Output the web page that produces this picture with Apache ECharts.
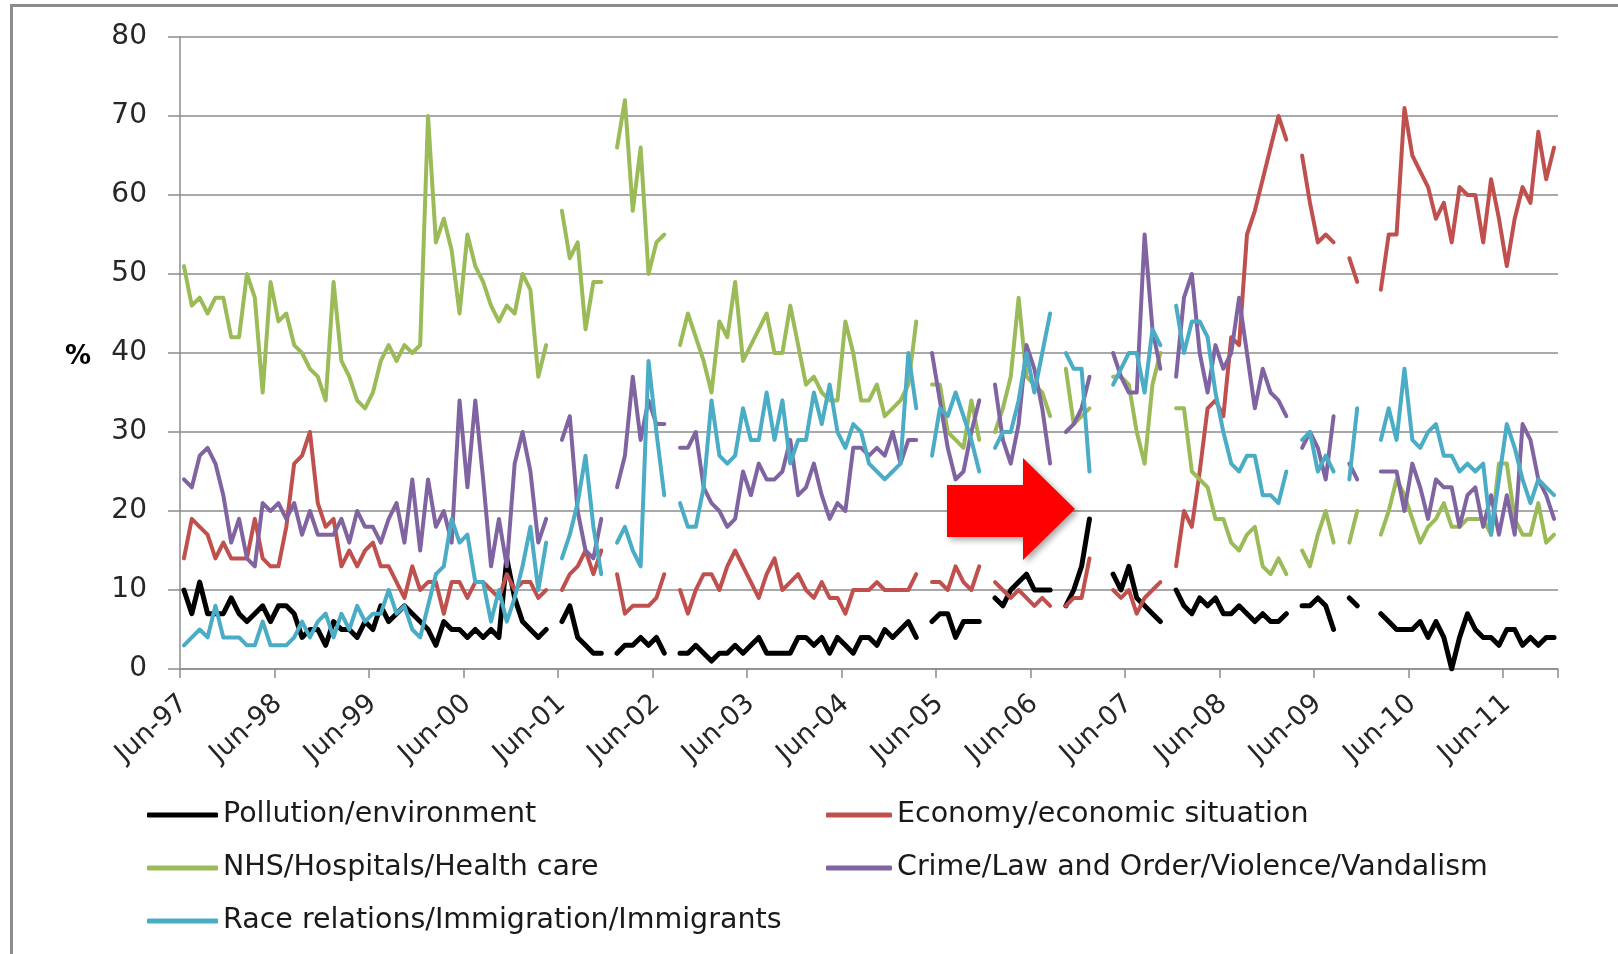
<!DOCTYPE html>
<html>
<head>
<meta charset="utf-8">
<script src="https://cdn.jsdelivr.net/npm/echarts@6/dist/echarts.min.js"></script>
<style>
html,body{margin:0;padding:0;background:#fff;}
#chart{width:1618px;height:954px;}
</style>
</head>
<body>
<div id="chart"></div>
<script>
// Monthly survey, Jun-97 .. Dec-11 (175 months); null = no survey that month
const monthNames = ['Jan','Feb','Mar','Apr','May','Jun','Jul','Aug','Sep','Oct','Nov','Dec'];
const startYear = 1997, startMonth = 5, monthCount = 175;
const categories = [];
for (let i = 0; i < monthCount; i++) {
  const mi = (startMonth + i) % 12;
  const yy = (startYear + Math.floor((startMonth + i) / 12)) % 100;
  categories.push(monthNames[mi] + '-' + String(yy).padStart(2, '0'));
}
const yTicks = [0, 10, 20, 30, 40, 50, 60, 70, 80];
const yAxisTitle = '%';

const seriesNames = [
  'Pollution/environment',
  'Economy/economic situation',
  'NHS/Hospitals/Health care',
  'Crime/Law and Order/Violence/Vandalism',
  'Race relations/Immigration/Immigrants'
];

const pollution = [
10,7,11,7,7,7,9,7,6,7,8,6,8,8,7,4,5,5,3,6,5,5,4,6,5,8,6,7,8,7,6,
5,3,6,5,5,4,5,4,5,4,14,9,6,5,4,5,
null,
6,8,4,3,2,2,
null,
2,3,3,4,3,4,2,
null,
2,2,3,2,1,2,2,3,2,3,4,2,2,2,2,4,4,3,4,2,4,3,2,4,4,3,5,4,5,6,4,
null,
6,7,7,4,6,6,6,
null,
9,8,10,11,12,10,10,10,
null,
8,10,13,19,
null,null,
12,10,13,9,8,7,6,
null,
10,8,7,9,8,9,7,7,8,7,6,7,6,6,7,
null,
8,8,9,8,5,
null,
9,8,
null,null,
7,6,5,5,5,6,4,6,4,0,4,7,5,4,4,3,5,5,3,4,3,4,4];

const economy = [
14,19,18,17,14,16,14,14,14,19,14,13,13,18,26,27,30,21,18,19,13,15,13,15,16,13,13,11,9,13,10,
11,11,7,11,11,9,11,11,10,9,12,10,11,11,9,10,
null,
10,12,13,15,12,15,
null,
12,7,8,8,8,9,12,
null,
10,7,10,12,12,10,13,15,13,11,9,12,14,10,11,12,10,9,11,9,9,7,10,10,10,11,10,10,10,10,12,
null,
11,11,10,13,11,10,13,
null,
11,10,9,10,9,8,9,8,
null,
8,9,9,14,
null,null,
10,9,10,7,9,10,11,
null,
13,20,18,25,33,34,32,42,41,55,58,62,66,70,67,
null,
65,59,54,55,54,
null,
52,49,
null,null,
48,55,55,71,65,63,61,57,59,54,61,60,60,54,62,57,51,57,61,59,68,62,66];

const nhs = [
51,46,47,45,47,47,42,42,50,47,35,49,44,45,41,40,38,37,34,49,39,37,34,33,35,39,41,39,41,40,41,
70,54,57,53,45,55,51,49,46,44,46,45,50,48,37,41,
null,
58,52,54,43,49,49,
null,
66,72,58,66,50,54,55,
null,
41,45,42,39,35,44,42,49,39,41,43,45,40,40,46,41,36,37,35,34,34,44,40,34,34,36,32,33,34,36,44,
null,
36,36,30,29,28,34,29,
null,
30,33,37,47,37,36,35,32,
null,
38,31,32,33,
null,null,
37,37,36,30,26,36,40,
null,
33,33,25,24,23,19,19,16,15,17,18,13,12,14,12,
null,
15,13,17,20,16,
null,
16,20,
null,null,
17,20,24,22,19,16,18,19,21,18,18,19,19,19,17,26,26,19,17,17,21,16,17];

const crime = [
24,23,27,28,26,22,16,19,14,13,21,20,21,19,21,17,20,17,17,17,19,16,20,18,18,16,19,21,16,24,15,
24,18,20,16,34,23,34,24,13,19,13,26,30,25,16,19,
null,
29,32,20,15,14,19,
null,
23,27,37,29,34,31,31,
null,
28,28,30,23,21,20,18,19,25,22,26,24,24,25,29,22,23,26,22,19,21,20,28,28,27,28,27,30,26,29,29,
null,
40,34,28,24,25,30,34,
null,
36,29,26,31,41,38,33,26,
null,
30,31,33,37,
null,null,
40,37,35,35,55,43,38,
null,
37,47,50,40,35,41,38,40,47,40,33,38,35,34,32,
null,
28,30,28,24,32,
null,
26,24,
null,null,
25,25,25,20,26,23,19,24,23,23,18,22,23,18,22,17,22,17,31,29,24,22,19];

const immigration = [
3,4,5,4,8,4,4,4,3,3,6,3,3,3,4,6,4,6,7,4,7,5,8,6,7,7,10,7,8,5,4,
8,12,13,19,16,17,11,11,6,10,6,9,13,18,10,16,
null,
14,17,21,27,18,12,
null,
16,18,15,13,39,30,22,
null,
21,18,18,23,34,27,26,27,33,29,29,35,29,34,26,29,29,35,31,36,30,28,31,30,26,25,24,25,26,40,33,
null,
27,33,32,35,32,29,25,
null,
28,30,30,34,40,35,40,45,
null,
40,38,38,25,
null,null,
36,38,40,40,35,43,41,
null,
46,40,44,44,42,35,30,26,25,27,27,22,22,21,25,
null,
29,30,25,27,25,
null,
24,33,
null,null,
29,33,29,38,29,28,30,31,27,27,25,26,25,26,17,24,31,28,24,21,24,23,22];

const seriesData = [pollution, economy, nhs, crime, immigration];
seriesData.forEach(function (d, i) {
  if (d.length !== monthCount) throw new Error(seriesNames[i] + ' has ' + d.length + ' values');
});

const colors = ['#000000', '#C0504D', '#9BBB59', '#8064A2', '#4BACC6'];
const widths = [5, 4, 4, 4, 4];

const FONT = 'DejaVu Sans';
const chart = echarts.init(document.getElementById('chart'), null, {renderer: 'canvas'});

const legendText = {fontFamily: FONT, fontSize: 28.5, color: '#1a1a1a', lineHeight: 30};

chart.setOption({
  animation: false,
  backgroundColor: '#ffffff',
  grid: {left: 180, right: 60, top: 37, bottom: 285, containLabel: false},
  xAxis: {
    type: 'category',
    data: categories,
    boundaryGap: true,
    axisLine: {lineStyle: {color: '#8c8c8c', width: 1.5}},
    axisTick: {show: true, interval: 11, length: 9, lineStyle: {color: '#8c8c8c', width: 1.5}},
    axisLabel: {
      interval: 11, rotate: 42, margin: 31,
      fontFamily: FONT, fontSize: 27, color: '#262626'
    },
    splitLine: {show: false}
  },
  yAxis: {
    type: 'value',
    min: yTicks[0], max: yTicks[yTicks.length - 1], interval: 10,
    axisLine: {show: true, lineStyle: {color: '#8c8c8c', width: 1.5}},
    axisTick: {show: true, length: 12, lineStyle: {color: '#8c8c8c', width: 1.5}},
    axisLabel: {margin: 33, fontFamily: FONT, fontSize: 28, color: '#262626'},
    splitLine: {show: true, lineStyle: {color: '#8c8c8c', width: 1.5}}
  },
  legend: [
    {
      data: [seriesNames[0], seriesNames[2], seriesNames[4]],
      orient: 'vertical', left: 147, top: 800, padding: 0,
      itemWidth: 71, itemHeight: 5, itemGap: 23, icon: 'roundRect',
      textStyle: legendText
    },
    {
      data: [seriesNames[1], seriesNames[3]],
      orient: 'vertical', left: 826, top: 800, padding: 0,
      itemWidth: 66, itemHeight: 5, itemGap: 23, icon: 'roundRect',
      textStyle: legendText
    }
  ],
  series: seriesNames.map(function (name, i) {
    return {
      name: name,
      type: 'line',
      data: seriesData[i],
      connectNulls: false,
      showSymbol: false,
      symbol: 'none',
      color: colors[i],
      lineStyle: {color: colors[i], width: widths[i], join: 'round', cap: 'round'},
      emphasis: {disabled: true}
    };
  }),
  graphic: [
    {
      type: 'rect', silent: true, z: -10,
      shape: {x: 11.5, y: 5.5, width: 1700, height: 1100},
      style: {fill: 'none', stroke: '#8c8c8c', lineWidth: 3}
    },
    {
      type: 'text', silent: true, z: 50,
      x: 78, y: 357,
      style: {text: yAxisTitle, font: 'bold 26px "DejaVu Sans"', fill: '#000', textAlign: 'center', textVerticalAlign: 'middle'}
    },
    {
      type: 'polygon', silent: true, z: 100,
      shape: {points: [[947, 485], [1023, 485], [1023, 458], [1075, 509], [1023, 560], [1023, 537], [947, 537]]},
      style: {fill: '#FF0000', shadowColor: 'rgba(0,0,0,0.35)', shadowBlur: 6, shadowOffsetX: 3, shadowOffsetY: 3}
    }
  ]
});
</script>
</body>
</html>
